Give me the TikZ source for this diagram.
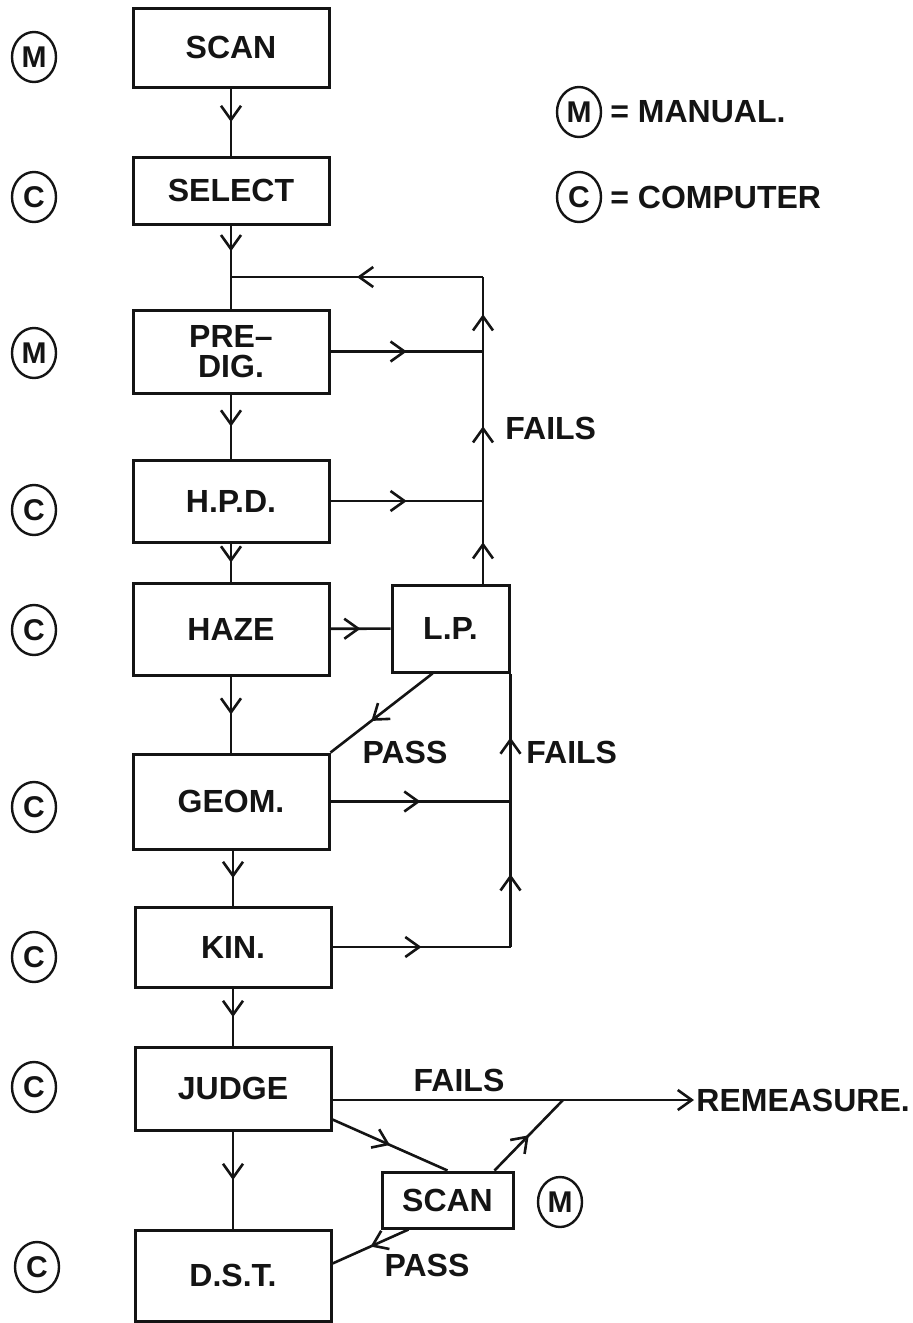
\documentclass[tikz,border=0pt]{standalone}
\usepackage{fontspec}
\setmainfont{Liberation Sans}
\usepackage{tikz}
\usetikzlibrary{arrows.meta,shapes.geometric,decorations.markings}
\definecolor{inkx}{HTML}{141414}
\tikzset{
  box/.style={draw=inkx,line width=1.5pt,minimum width=98pt,inner sep=2pt,align=center,text=inkx},
  ar/.style={draw=inkx,line width=1.3pt},
  mar/.style={postaction={decorate},decoration={markings,mark=at position #1 with {\arrow{Straight Barb[length=7pt,width=10pt]}}}},
  mar/.default=0.5,
  circ/.style={draw=inkx,ellipse,line width=1.2pt,minimum width=22pt,minimum height=25pt,inner sep=0pt,text=inkx,font=\fontsize{15}{15}\selectfont\bfseries},
  lbl/.style={inner sep=1pt,text=inkx}
}
\begin{document}
\begin{tikzpicture}[x=0.5pt,y=-0.5pt,font=\fontsize{16}{19}\selectfont\bfseries]
\useasboundingbox (0,0) rectangle (913,1323);
% main column
\node[box,minimum height=39.5pt] (scan) at (231,47.5) {SCAN};
\node[box,minimum height=33.5pt] (select) at (231,190.5) {SELECT};
\node[box,minimum height=41.5pt,font=\fontsize{16}{15}\selectfont\bfseries] (predig) at (231,351.5) {PRE–\\DIG.};
\node[box,minimum height=41pt] (hpd) at (231,501) {H.P.D.};
\node[box,minimum height=46pt] (haze) at (231,629) {HAZE};
\node[box,minimum height=47.5pt] (geom) at (231,801.5) {GEOM.};
\node[box,minimum height=40pt] (kin) at (233,947) {KIN.};
\node[box,minimum height=41.5pt] (judge) at (233,1088.5) {JUDGE};
\node[box,minimum height=45.5pt] (dst) at (233,1275.5) {D.S.T.};
\node[box,minimum width=58.5pt,minimum height=43.5pt] (lp) at (450.5,628.5) {L.P.};
\node[box,minimum width=65.5pt,minimum height=28pt] (scanb) at (447.5,1200) {SCAN};
% manual / computer marks
\node[circ] (m1) at (34,57) {M};
\node[circ] (c1) at (34,197) {C};
\node[circ] (m2) at (34,353) {M};
\node[circ] (c2) at (34,510) {C};
\node[circ] (c3) at (34,630) {C};
\node[circ] (c4) at (34,807) {C};
\node[circ] (c5) at (34,957) {C};
\node[circ] (c6) at (34,1087) {C};
\node[circ] (c7) at (37,1267) {C};
\node[circ] (m3) at (560,1202) {M};
% legend
\node[circ] (km) at (579,112) {M};
\node[lbl,anchor=west] (kmt) at (608,112) {= MANUAL.};
\node[circ] (kc) at (579,197) {C};
\node[lbl,anchor=west] (kct) at (608,197) {= COMPUTER};
% down the column
\coordinate (j1) at (231,277);
\draw[ar,mar] (scan) -- (select);
\draw[ar,mar] (select) -- (j1);
\draw[ar] (j1) -- (predig);
\draw[ar,mar] (predig) -- (hpd);
\draw[ar,mar] (hpd) -- (haze);
\draw[ar,mar] (haze) -- (geom);
\draw[ar,mar] (geom.south -| kin) -- (kin);
\draw[ar,mar] (kin) -- (judge);
\draw[ar,mar] (judge) -- (dst);
% upper loop
\coordinate (tr) at (483,277);
\coordinate (up1) at (predig.east -| tr);
\coordinate (up2) at (hpd.east -| tr);
\draw[ar,mar] (predig.east) -- (up1);
\draw[ar,mar] (hpd.east) -- (up2);
\draw[ar,mar] (lp.north -| tr) -- (up2);
\draw[ar,mar] (up2) -- (up1);
\draw[ar,mar] (up1) -- (tr);
\draw[ar,mar] (tr) -- (j1);
\node[lbl,anchor=west] (fa1) at (503,428) {FAILS};
\draw[ar,mar] (haze) -- (lp);
\draw[ar,mar=0.6] ([xshift=-9pt]lp.south) -- (geom.north east);
\node[lbl] (pa1) at (405,752) {PASS};
% lower loop
\coordinate (lo) at (lp.south east);
\coordinate (dn1) at (geom.east -| lo);
\coordinate (dn2) at (kin.east -| lo);
\draw[ar,mar] (geom.east) -- (dn1);
\draw[ar,mar] (kin.east) -- (dn2);
\draw[ar,mar] (dn2) -- (dn1);
\draw[ar,mar] (dn1) -- (lo);
\node[lbl,anchor=west] (fa2) at (524,752) {FAILS};
% judge outputs
\node[lbl,anchor=west] (rem) at (694,1100) {REMEASURE.};
\coordinate (f1) at (563,1100);
\draw[ar,-{Straight Barb[length=7pt,width=10pt]}] (judge.east |- rem) -- (rem.west);
\node[lbl] (fa3) at (459,1080) {FAILS};
\draw[ar,mar] ([yshift=6pt]judge.south east) -- (scanb.north);
\draw[ar,mar] ([xshift=-10pt]scanb.north east) -- (f1);
\draw[ar,mar] ([xshift=14pt]scanb.south west) -- ([yshift=6pt]dst.east);
\node[lbl] (pa2) at (427,1265) {PASS};
\end{tikzpicture}
\end{document}
